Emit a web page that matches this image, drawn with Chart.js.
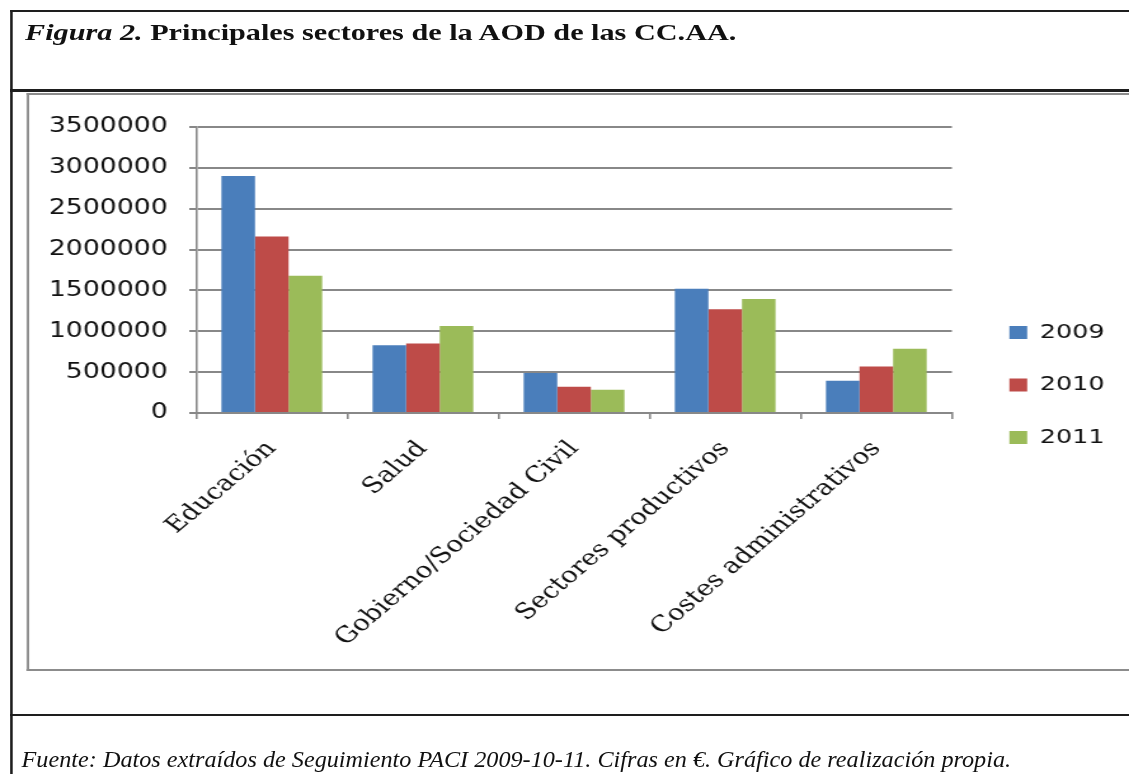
<!DOCTYPE html>
<html>
<head>
<meta charset="utf-8">
<script src="https://cdn.jsdelivr.net/npm/chart.js@4/dist/chart.umd.min.js"></script>
<style>
  html, body { margin: 0; padding: 0; background: #fff; overflow: hidden; width: 1129px; height: 774px; }
  #page { position: absolute; left: 0; top: 0; width: 900px; height: 774px; transform: scaleX(1.27); transform-origin: 0 0; }
  .hline { position: absolute; background: #1e1e1e; }
  .vline { position: absolute; background: #1e1e1e; }
  #title { position: absolute; left: 19.7px; top: 21px; font-family: "Liberation Serif", serif; font-weight: bold; font-size: 23.8px; line-height: 1; color: #111; white-space: nowrap; }
  #footer { position: absolute; left: 17.3px; top: 749px; font-family: "Liberation Serif", serif; font-style: italic; font-size: 22.5px; line-height: 1; color: #111; white-space: nowrap; transform: scaleX(0.847); transform-origin: 0 0; }
  #box { position: absolute; left: 20.5px; top: 93px; width: 900px; height: 574px; border: 2px solid #8c8c8c; border-right: none; }
  #wrap { position: absolute; left: 22.5px; top: 95px; width: 867px; height: 573px; }
</style>
</head>
<body>
<div id="page">
  <div class="vline" style="left:8px;top:10px;width:1.8px;height:800px;"></div>
  <div class="hline" style="left:8px;top:10px;width:900px;height:2px;"></div>
  <div class="hline" style="left:8px;top:89px;width:900px;height:2.5px;"></div>
  <div class="hline" style="left:8px;top:713.5px;width:900px;height:2.5px;"></div>
  <div id="title"><i>Figura 2.</i> Principales sectores de la AOD de las CC.AA.</div>
  <div id="box"></div>
  <div id="wrap"><canvas id="c"></canvas></div>
  <div id="footer">Fuente: Datos extraídos de Seguimiento PACI 2009-10-11. Cifras en €. Gráfico de realización propia.</div>
</div>
<script>
const categories = ["Educación", "Salud", "Gobierno/Sociedad Civil", "Sectores productivos", "Costes administrativos"];
const seriesNames = ["2009", "2010", "2011"];
const values2009 = [2900000, 830000, 490000, 1520000, 395000];
const values2010 = [2160000, 850000, 320000, 1270000, 570000];
const values2011 = [1680000, 1065000, 285000, 1395000, 785000];
const seriesColors = ["#4A7EBB", "#BE4B48", "#9BBB59"];
const yMin = 0, yMax = 3500000, yStep = 500000;

const gridColor = "#888888";

new Chart(document.getElementById("c"), {
  type: "bar",
  data: {
    labels: categories,
    datasets: [values2009, values2010, values2011].map((v, i) => ({
      label: seriesNames[i],
      data: v,
      backgroundColor: seriesColors[i],
      borderWidth: 0,
      categoryPercentage: 3 / 4.5,
      barPercentage: 1.0,
      xAxisID: "x",
      yAxisID: "y"
    }))
  },
  options: {
    responsive: true,
    maintainAspectRatio: false,
    animation: false,
    devicePixelRatio: 1,
    layout: { padding: { top: 7, bottom: 0, left: 0, right: 10.3 } },
    plugins: {
      tooltip: { enabled: false },
      title: { display: false },
      legend: {
        position: "right",
        align: "center",
        labels: {
          boxWidth: 14,
          boxHeight: 13,
          padding: 32.5,
          color: "#111",
          font: { family: "'DejaVu Sans', sans-serif", size: 20 }
        }
      }
    },
    scales: {
      x: {
        type: "category",
        position: "bottom",
        offset: true,
        grid: { display: true, drawOnChartArea: false, drawTicks: true, tickLength: 6, color: gridColor, lineWidth: 1.6, offset: true },
        border: { display: true, color: gridColor, width: 2 },
        ticks: {
          autoSkip: false, maxRotation: 47, minRotation: 47, padding: 17,
          color: "#111",
          font: { family: "'DejaVu Serif', serif", size: 22 }
        },
        afterFit: (s) => { s.height = 255; }
      },
      xTopSpacer: {
        type: "category",
        position: "top",
        display: true,
        grid: { display: false },
        border: { display: false },
        ticks: { display: false },
        afterFit: (s) => { s.height = 25; }
      },
      y: {
        type: "linear",
        position: "left",
        min: yMin, max: yMax,
        grid: { display: true, drawTicks: true, tickLength: 5.5, color: gridColor, lineWidth: 2 },
        border: { display: true, color: gridColor, width: 1.6 },
        ticks: {
          stepSize: yStep, padding: 17, color: "#111",
          font: { family: "'DejaVu Sans', sans-serif", size: 21 },
          callback: (v) => String(v)
        },
        afterFit: (s) => { s.width = 131.5; }
      },
      yRightSpacer: {
        type: "linear",
        position: "right",
        display: true,
        grid: { display: false },
        border: { display: false },
        ticks: { display: false },
        afterFit: (s) => { s.width = 12.8; }
      }
    }
  }
});
</script>
</body>
</html>
